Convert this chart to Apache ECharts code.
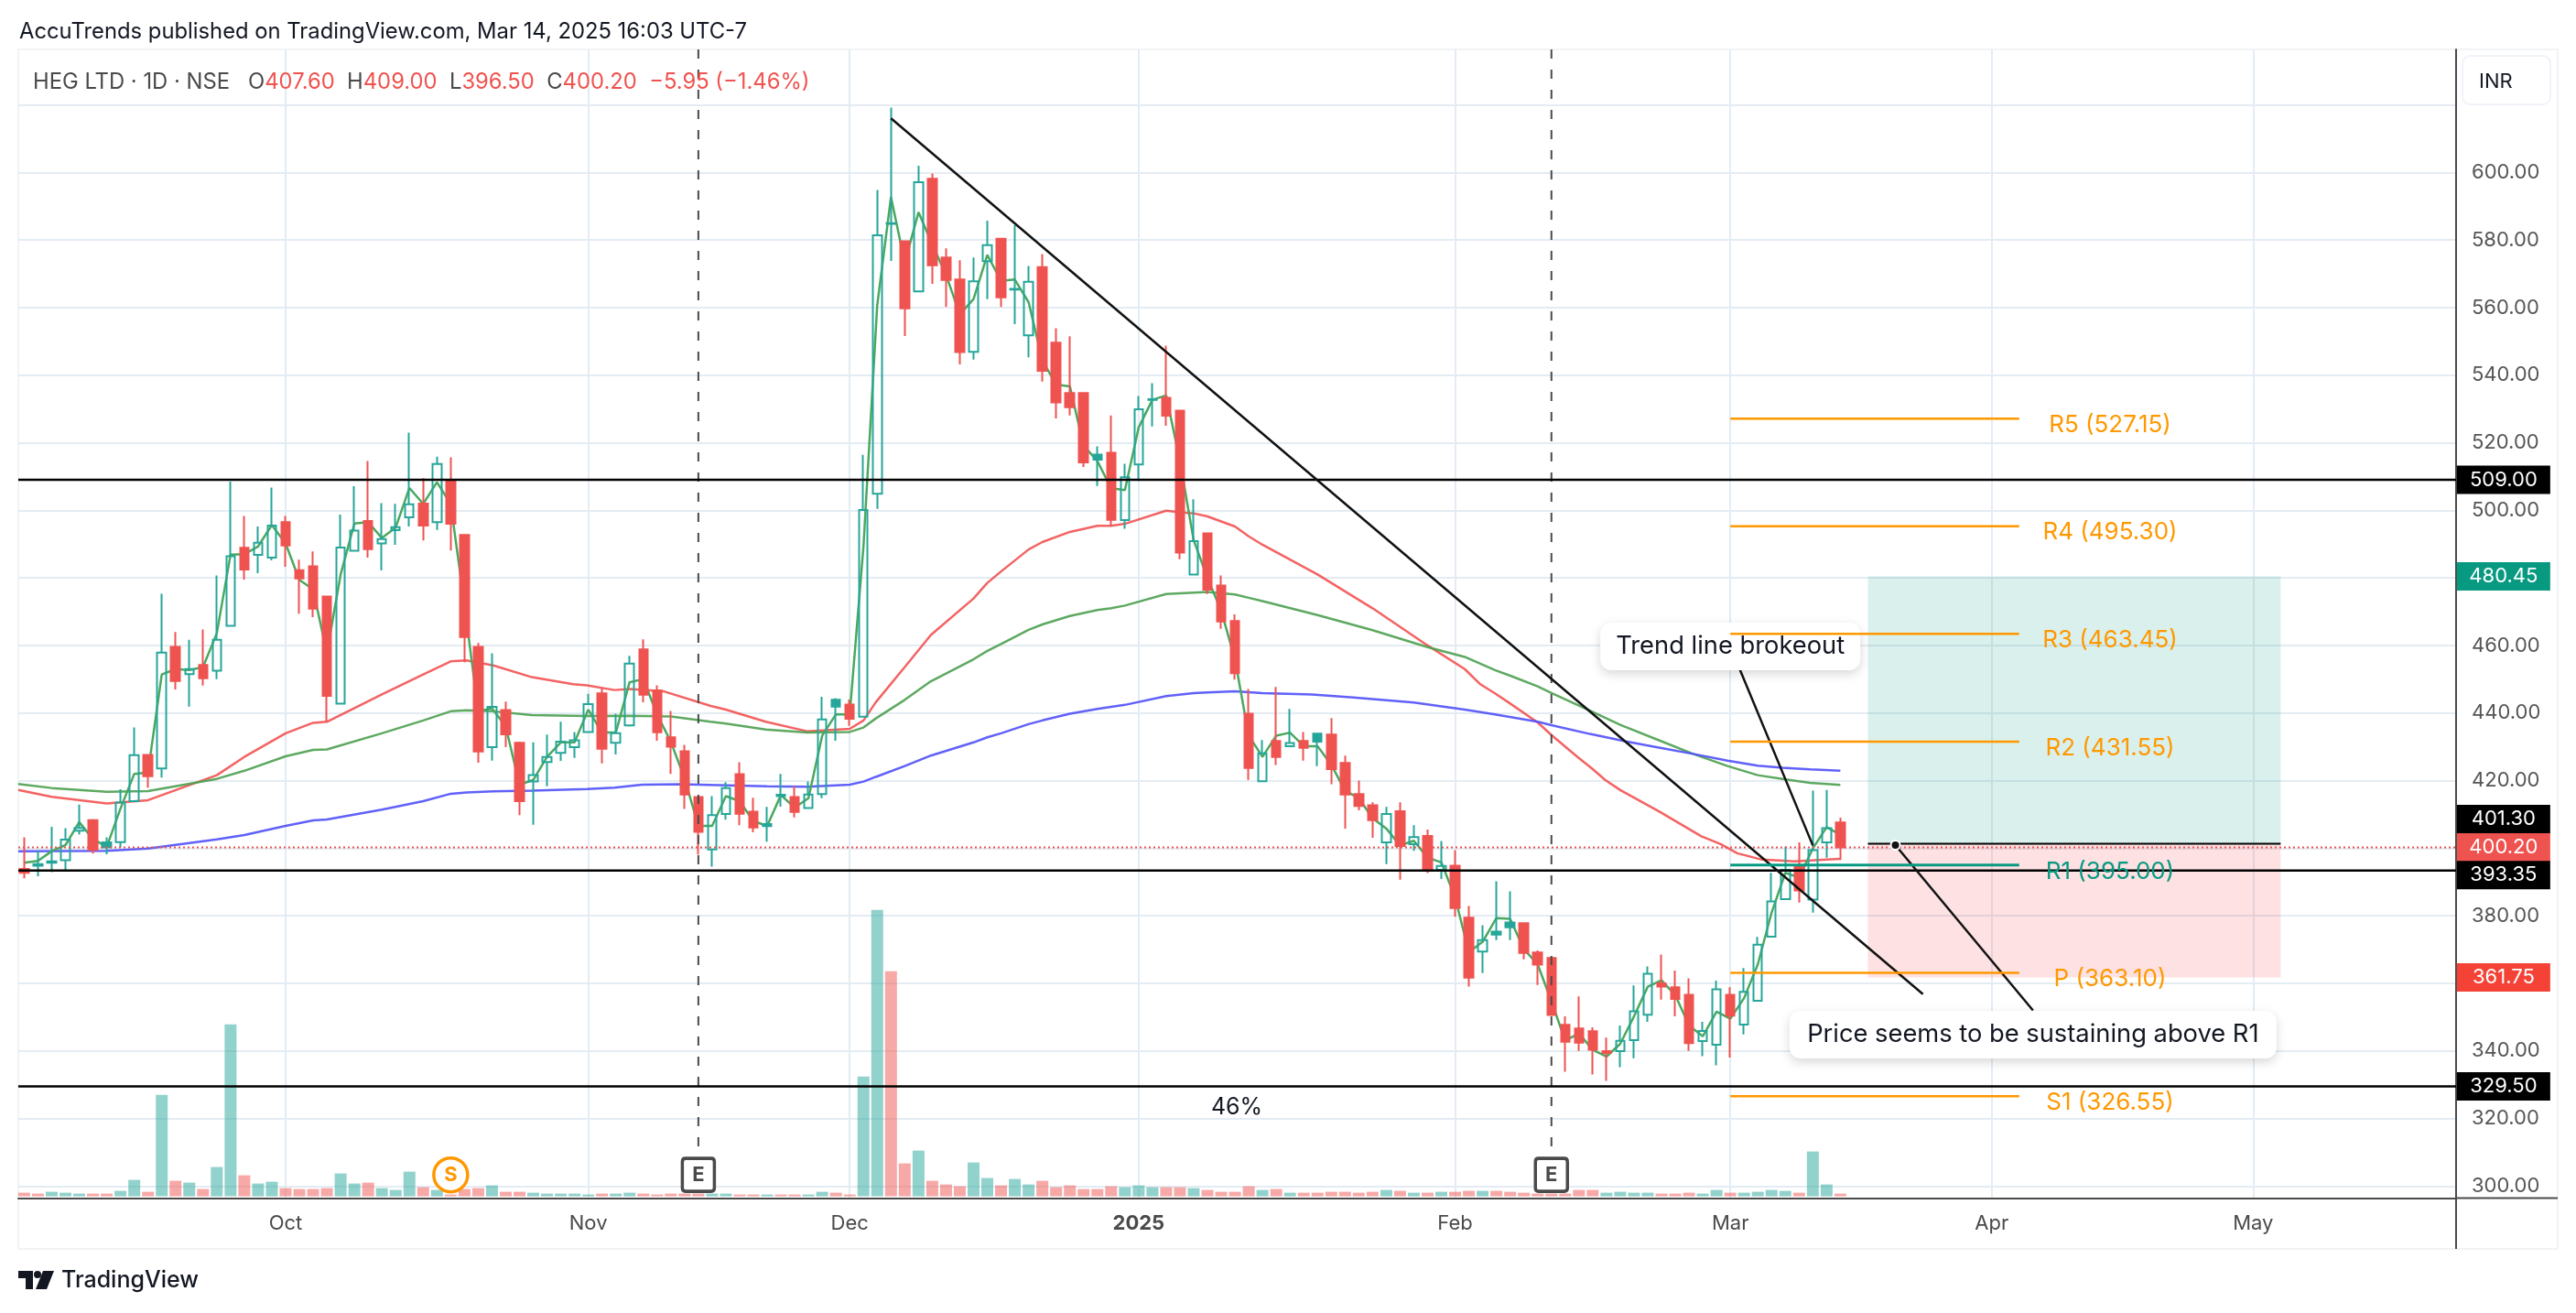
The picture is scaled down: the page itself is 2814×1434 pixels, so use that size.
<!DOCTYPE html>
<html>
<head>
<meta charset="utf-8">
<title>HEG LTD</title>
<script src="https://cdn.jsdelivr.net/npm/echarts@6/dist/echarts.min.js"></script>
<style>
html, body { margin: 0; padding: 0; background: #fff; }
#chart { width: 2814px; height: 1434px; }
</style>
</head>
<body>
<div id="chart"></div>
<script>
// one row = 10 daily bars, bar 0 is mid Sep 2024, bar 132 is Mar 13 2025
var opens = [
    393.85, 394.8, 395.7, 396.4, 405.2, 408.3, 400.2, 401.8, 413.9, 427.6,
    423.6, 459.6, 451.5, 454.2, 452.5, 465.8, 488.9, 486.8, 486.0, 496.5,
    482.3, 483.4, 474.5, 442.8, 488.0, 496.8, 490.2, 494.1, 497.9, 502.0,
    496.5, 508.7, 492.7, 459.6, 429.9, 440.9, 431.2, 419.7, 425.5, 428.2,
    429.9, 434.4, 445.8, 431.2, 436.3, 458.8, 446.7, 432.8, 428.7, 415.1,
    399.6, 410.1, 421.9, 410.8, 406.5, 415.4, 415.1, 411.9, 416.0, 441.9,
    442.5, 438.9, 504.9, 584.8, 579.6, 564.8, 598.1, 574.8, 568.3, 546.9,
    573.7, 580.4, 565.3, 551.8, 572.0, 549.6, 534.7, 534.7, 515.0, 517.0,
    497.1, 513.6, 532.7, 533.3, 529.5, 481.0, 493.2, 477.7, 467.2, 439.8,
    419.8, 431.7, 430.2, 431.7, 431.5, 433.6, 425.2, 416.0, 412.7, 401.7,
    410.9, 401.2, 403.6, 393.6, 394.8, 379.4, 369.4, 374.4, 376.6, 377.8,
    369.1, 367.5, 347.7, 346.6, 345.8, 339.9, 339.9, 343.2, 350.7, 360.0,
    358.8, 356.6, 342.9, 341.8, 356.6, 347.8, 354.8, 373.8, 384.9, 394.8,
    384.8, 401.7, 407.6
];
var closes = [
    392.7, 395.3, 396.1, 402.5, 406.0, 399.5, 401.7, 413.5, 427.5, 421.3,
    457.9, 449.5, 453.0, 450.3, 461.7, 486.4, 482.5, 490.4, 495.5, 489.6,
    479.8, 470.9, 445.1, 489.0, 494.0, 488.5, 491.5, 495.0, 501.8, 495.5,
    513.7, 496.0, 462.5, 428.6, 441.8, 433.7, 413.9, 421.6, 427.0, 431.5,
    431.9, 442.6, 429.4, 434.0, 454.6, 445.4, 434.3, 430.0, 415.9, 404.8,
    409.8, 417.8, 410.2, 406.1, 407.1, 415.8, 410.7, 415.9, 438.1, 443.9,
    438.3, 500.1, 581.4, 585.0, 559.8, 597.1, 572.5, 568.2, 546.8, 567.8,
    578.5, 563.0, 565.5, 567.6, 541.3, 531.9, 530.5, 514.2, 516.5, 497.2,
    509.8, 529.9, 532.9, 528.0, 487.5, 490.9, 476.5, 467.1, 451.8, 423.7,
    428.1, 427.0, 431.1, 429.7, 433.9, 423.4, 415.9, 412.5, 408.3, 410.1,
    400.6, 403.3, 393.6, 394.7, 382.3, 361.7, 372.8, 375.3, 378.0, 369.0,
    365.5, 350.6, 342.7, 342.4, 340.3, 339.4, 343.0, 351.7, 362.8, 359.0,
    355.4, 342.3, 345.9, 358.2, 350.4, 357.5, 371.4, 384.2, 393.6, 387.5,
    399.4, 405.9, 400.2
];
var highs = [
    403.2, 399.3, 406.3, 405.9, 412.9, 408.6, 403.2, 417.4, 435.7, 427.6,
    475.3, 464.0, 461.7, 464.7, 480.7, 508.5, 498.3, 495.2, 506.7, 498.3,
    485.4, 487.8, 474.5, 498.7, 507.1, 514.6, 502.1, 501.9, 523.0, 509.5,
    515.9, 515.7, 492.7, 460.7, 457.7, 443.4, 431.5, 431.3, 433.6, 437.4,
    434.4, 445.7, 447.3, 439.8, 456.9, 461.8, 448.2, 440.6, 430.6, 415.1,
    415.4, 419.5, 425.4, 414.9, 412.2, 422.0, 418.4, 419.7, 444.8, 444.4,
    444.0, 516.4, 594.8, 619.2, 579.6, 602.0, 599.7, 577.5, 574.0, 574.8,
    585.7, 580.4, 584.4, 572.3, 575.8, 553.9, 551.5, 534.7, 518.9, 528.1,
    513.8, 533.8, 537.6, 548.7, 529.5, 503.3, 493.2, 480.7, 469.2, 447.1,
    432.0, 447.7, 441.2, 434.4, 433.9, 438.5, 427.4, 420.0, 413.6, 412.2,
    413.6, 406.8, 405.5, 402.1, 399.4, 382.9, 377.2, 390.2, 387.2, 377.8,
    369.7, 367.5, 350.2, 356.1, 347.0, 343.9, 347.5, 359.4, 365.0, 368.5,
    363.8, 361.5, 348.6, 360.8, 358.8, 364.5, 373.7, 392.7, 400.5, 401.7,
    417.0, 417.2, 409.0
];
var lows = [
    391.1, 391.7, 392.9, 393.2, 404.0, 398.4, 398.2, 400.3, 413.9, 417.9,
    420.9, 447.0, 441.9, 448.1, 450.0, 465.8, 479.5, 481.4, 485.2, 483.3,
    469.4, 468.4, 437.4, 442.8, 487.8, 486.0, 482.2, 489.8, 495.2, 491.1,
    494.2, 488.1, 455.0, 425.3, 425.9, 429.9, 409.8, 406.9, 418.3, 425.8,
    426.7, 434.2, 425.1, 427.7, 436.0, 443.2, 431.8, 422.0, 411.6, 398.1,
    394.5, 408.4, 406.8, 404.7, 401.9, 412.3, 409.1, 411.6, 414.8, 431.8,
    436.2, 438.9, 500.4, 573.8, 551.6, 564.8, 567.0, 560.2, 543.2, 544.6,
    562.5, 560.2, 555.1, 545.3, 538.1, 527.2, 528.1, 512.8, 507.2, 495.2,
    494.5, 508.7, 524.8, 525.0, 485.5, 481.0, 475.2, 464.9, 449.9, 420.2,
    419.8, 424.6, 430.2, 425.9, 424.3, 418.9, 405.8, 411.2, 403.1, 395.3,
    390.7, 399.2, 392.6, 390.9, 379.7, 359.0, 363.0, 372.8, 372.8, 367.1,
    359.5, 350.6, 333.8, 340.0, 333.0, 331.1, 335.2, 337.8, 348.6, 355.2,
    350.2, 340.0, 338.4, 335.7, 338.0, 344.9, 354.8, 373.8, 384.9, 383.9,
    380.9, 397.2, 396.5
];
// bars drawn filled in teal
var solidUp = [6, 54, 59, 78, 94, 107, 108];

var volumes = [
    4, 3, 5, 4, 3, 3, 3, 6, 18, 5,
    111, 17, 15, 8, 32, 188, 23, 14, 16, 9,
    8, 8, 9, 25, 14, 15, 9, 7, 27, 10,
    7, 2, 8, 9, 12, 5, 5, 4, 3, 3,
    3, 2, 3, 3, 4, 3, 2, 3, 3, 3,
    3, 3, 2, 2, 2, 2, 2, 2, 5, 4,
    2, 131, 313, 246, 36, 50, 17, 13, 11, 37,
    20, 12, 19, 13, 17, 10, 12, 8, 8, 11,
    10, 12, 10, 10, 10, 9, 7, 5, 5, 11,
    7, 8, 4, 4, 4, 5, 5, 4, 5, 7,
    6, 4, 4, 5, 5, 6, 6, 6, 5, 4,
    3, 3, 3, 7, 7, 4, 5, 4, 4, 3,
    3, 4, 3, 7, 4, 4, 5, 7, 6, 4,
    49, 13, 3
];
// 1 = teal volume bar
var volUp = [
    0, 0, 1, 1, 1, 0, 0, 1, 1, 0,
    1, 0, 1, 0, 1, 1, 0, 1, 1, 0,
    0, 0, 0, 1, 1, 0, 1, 1, 1, 0,
    1, 0, 0, 0, 1, 0, 0, 1, 1, 1,
    1, 1, 0, 1, 1, 0, 0, 0, 0, 0,
    1, 1, 0, 0, 1, 0, 0, 1, 1, 0,
    0, 1, 1, 0, 0, 1, 0, 0, 0, 1,
    1, 0, 1, 1, 0, 0, 0, 0, 0, 0,
    1, 1, 1, 0, 0, 1, 0, 0, 0, 0,
    1, 0, 1, 0, 0, 0, 0, 0, 0, 1,
    0, 1, 0, 1, 0, 0, 1, 0, 0, 0,
    0, 0, 0, 0, 0, 1, 1, 1, 1, 0,
    0, 0, 1, 1, 0, 1, 1, 1, 1, 0,
    1, 1, 0
];

var fastMa = [
    395.7, 396.2, 399.1, 400.9, 407.7, 402.7, 400.4, 411.7, 422.0, 422.4,
    451.4, 453.0, 452.7, 453.6, 463.6, 486.9, 487.0, 489.3, 495.6, 490.2,
    479.4, 476.6, 457.7, 481.0, 496.1, 496.5, 491.8, 494.9, 506.6, 501.9,
    508.3, 501.9, 472.1, 440.5, 441.4, 436.0, 418.8, 420.2, 427.0, 431.3,
    431.3, 441.0, 434.2, 434.2, 449.1, 450.0, 439.6, 431.5, 420.6, 406.6,
    406.6, 415.4, 413.9, 408.0, 406.6, 415.7, 412.0, 414.8, 433.3, 439.6,
    439.6, 489.3, 560.7, 592.7, 573.3, 588.2, 578.7, 569.7, 558.0, 562.5,
    575.6, 567.9, 568.3, 561.6, 544.4, 537.2, 536.7, 519.1, 514.6, 506.5,
    506.0, 524.5, 532.7, 534.0, 514.6, 491.1, 480.0, 470.3, 455.9, 433.3,
    427.0, 433.3, 434.2, 430.2, 430.2, 424.7, 417.0, 414.8, 408.9, 405.8,
    400.8, 402.2, 397.2, 395.8, 385.4, 369.2, 372.3, 379.3, 379.1, 370.1,
    365.6, 354.7, 343.0, 345.2, 340.3, 338.3, 342.1, 350.2, 359.0, 360.9,
    356.5, 347.5, 344.3, 351.6, 349.5, 355.6, 365.6, 380.9, 392.7, 391.3,
    399.9, 406.2, 404.0
];
var redMa = [
    [-0.43, 417.2], [2, 415.2], [6, 413.2], [9, 414.2], [14, 421.6], [16, 427], [19, 434], [21, 437.1],
    [22, 437.4], [26, 445.5], [29, 451.4], [31, 455.3], [32.15, 455.6], [34.1, 454.1], [36.9, 450.6],
    [39.9, 448.5], [40.9, 448.2], [42.9, 446.8], [44, 447.1], [46.5, 446.4], [49.9, 442.1], [51, 441],
    [53.9, 437.4], [56.9, 434.6], [60, 435.3], [61, 437.8], [61.9, 443.2], [64, 453.6], [65.9, 463.1],
    [69, 473.9], [70, 478.5], [71, 481.9], [73, 488.4], [74, 490.6], [76, 493.6], [78, 495.4], [79, 495.4],
    [80, 496], [83, 499.9], [84, 499.4], [85, 499.1], [86, 498.2], [88, 495.2], [89, 492.3], [90, 489.8],
    [94, 481], [98, 471], [102, 460], [104.7, 453], [105.8, 448.6], [106.9, 445.8], [108, 442.8], [110, 437.2],
    [111, 433.5], [112.9, 427], [114, 423.4], [114.9, 420.2], [116, 417.2], [118, 412.7], [118.9, 410.7],
    [121.9, 403.5], [123.3, 401.2], [124.5, 398.5], [126.3, 396.6], [128.7, 396.1], [131.3, 396.7], [132, 396.8]
];
var greenMa = [
    [-0.43, 419], [2, 417.8], [6, 416.7], [9, 416.9], [14, 420.5], [16, 422.9], [19, 427.2], [21, 429.1],
    [22, 429.2], [26, 434], [29, 437.8], [31, 440.5], [32.15, 440.8], [34.1, 440.5], [36.9, 439.4],
    [40.9, 439.1], [44, 439.2], [47, 439], [49.9, 437.4], [51, 436.9], [53.9, 435.1], [56.9, 434.2], [60, 434.4],
    [61, 435.7], [61.9, 438.4], [64, 443.9], [65.9, 449.4], [69, 455.9], [70, 458.4], [71, 460.4], [73, 464.6],
    [74, 466.2], [76, 468.7], [78, 470.5], [79, 471], [80, 471.8], [83, 475.2], [84, 475.4], [86, 475.8],
    [88, 475.1], [89, 474.1], [90, 473.1], [94, 469], [98, 464.5], [102, 459.5], [104.7, 456.6], [106.9, 452.7],
    [108.1, 450.9], [110, 447.9], [111, 445.9], [113.8, 440.7], [116, 436.5], [118.9, 431.8], [121.3, 427.9],
    [123.8, 424.3], [126, 421.6], [127.8, 420.5], [129.8, 419.3], [132, 418.7]
];
var blueMa = [
    [-0.43, 399.1], [6, 399.2], [9, 399.9], [14, 402.6], [16, 403.9], [19, 406.6], [21, 408.2], [22, 408.5],
    [26, 411.4], [29, 413.9], [31, 416.1], [32.15, 416.5], [34.1, 416.8], [36.9, 417], [40.9, 417.5], [42.9, 417.9],
    [44.9, 418.8], [47.7, 418.9], [54, 418.3], [56.9, 418.2], [60, 418.8], [61, 419.7], [61.9, 421.1], [64, 424.3],
    [65.9, 427.4], [69, 431.3], [70, 432.8], [71, 434], [73, 436.7], [74, 437.8], [76, 439.8], [78, 441.2], [80, 442.4],
    [83, 445], [85, 445.9], [86, 446.1], [88, 446.4], [90, 445.9], [93.6, 445.5], [96.6, 444.6], [101, 443.1],
    [104.7, 441], [106.9, 439.6], [110, 437.4], [111, 436.4], [113.8, 433.8], [116.5, 431.5], [118.9, 429.7],
    [121.3, 427.9], [123.8, 425.9], [126, 424.4], [127.8, 423.8], [129.8, 423.3], [132, 422.9]
];

var monthTicks = [19, 41, 60, 81, 104, 124, 143, 162];
var monthLabels = ['Oct', 'Nov', 'Dec', '2025', 'Feb', 'Mar', 'Apr', 'May'];
var priceTicks = [300, 320, 340, 360, 380, 400, 420, 440, 460, 480, 500, 520, 540, 560, 580, 600, 620];

var levelNames = ['R5', 'R4', 'R3', 'R2', 'R1', 'P', 'S1'];
var levelValues = [527.15, 495.30, 463.45, 431.55, 395.00, 363.10, 326.55];
var supportLines = [509.00, 393.35, 329.50];
var tagValues = [509.00, 480.45, 401.30, 400.20, 393.35, 361.75, 329.50];
var earningsBars = [49, 111];
var splitBar = 31;
var lastPrice = 400.20;
var targetPrice = 480.45, entryPrice = 401.30, stopPrice = 361.75;
var trendLine = [[63, 616], [138, 356.8]];
var noteLineA = [[124, 459.7], [130, 400.8]];
var noteLineB = [[136, 400.9], [146, 352]];

var TEAL = '#26a69a', RED = '#ef5350', ORANGE = '#ff9800', FONT = 'Inter, "Noto Sans", sans-serif';
var xMin = -0.426, xMax = 176.75, yMin = 296.4, yMax = 636.4;

function lineSeries(points, color, width, type, z) {
    return {
        type: 'line', data: points, symbol: 'none', silent: true, z: z, animation: false,
        lineStyle: {color: color, width: width, type: type || 'solid'}
    };
}

function textPoint(x, y, text, label, z) {
    return {
        type: 'scatter', data: [[x, y]], symbolSize: 0, silent: true, z: z, animation: false,
        itemStyle: {opacity: 1},
        label: Object.assign({show: true, position: 'inside', formatter: text, fontFamily: FONT}, label)
    };
}

var candleData = [], volumeData = [], fastData = [];
for (var i = 0; i < opens.length; i++) {
    var item = {value: [i, opens[i], closes[i], lows[i], highs[i]]};
    if (solidUp.indexOf(i) >= 0) {
        item.itemStyle = {color: TEAL};
    }
    candleData.push(item);
    volumeData.push({
        value: [i, volumes[i]],
        itemStyle: {color: volUp[i] ? 'rgba(38,166,154,0.5)' : 'rgba(239,83,80,0.5)'}
    });
    fastData.push([i, fastMa[i]]);
}

var series = [];
series.push({
    type: 'bar', data: volumeData, yAxisIndex: 1, barWidth: 13, z: 1, silent: true, animation: false
});
// long / short position boxes
series.push({
    type: 'line', data: [], z: 1, silent: true, animation: false,
    markArea: {
        silent: true,
        data: [
            [{xAxis: 134, yAxis: targetPrice, itemStyle: {color: 'rgba(8,153,129,0.15)'}}, {xAxis: 164, yAxis: entryPrice}],
            [{xAxis: 134, yAxis: entryPrice, itemStyle: {color: 'rgba(242,54,69,0.15)'}}, {xAxis: 164, yAxis: stopPrice}]
        ]
    }
});
series.push(lineSeries(redMa, 'rgba(242,72,72,0.85)', 2.5, 'solid', 2));
series.push(lineSeries(greenMa, 'rgba(76,160,80,0.9)', 2.5, 'solid', 2));
series.push(lineSeries(blueMa, 'rgba(80,80,250,0.9)', 2.5, 'solid', 2));
series.push(lineSeries(fastData, '#4aa85f', 2.5, 'solid', 2));
series.push({
    type: 'candlestick', data: candleData, barWidth: 10, z: 3, silent: true, animation: false,
    encode: {x: 0, y: [1, 2, 3, 4]},
    itemStyle: {color: 'rgba(0,0,0,0)', color0: RED, borderColor: TEAL, borderColor0: RED, borderWidth: 2}
});

// earnings markers
earningsBars.forEach(function (bar) {
    series.push(lineSeries([[bar, yMax], [bar, 311.7]], '#4a4a4a', 2, [10, 12], 4));
});
supportLines.forEach(function (v) {
    series.push(lineSeries([[xMin, v], [xMax, v]], '#000000', 2.5, 'solid', 4));
});
series.push(lineSeries([[xMin, lastPrice], [xMax, lastPrice]], RED, 2, [2, 3], 4));
series.push(lineSeries(trendLine, '#111111', 2.5, 'solid', 5));
series.push(lineSeries(noteLineA, '#111111', 2.5, 'solid', 5));
series.push(lineSeries(noteLineB, '#111111', 2.5, 'solid', 5));
series.push(lineSeries([[134, entryPrice], [164, entryPrice]], '#000000', 2, 'solid', 5));

var boxLabel = {
    color: '#131722', fontSize: 27.3, backgroundColor: '#ffffff', borderRadius: 12,
    padding: [7, 0, 0, 0], height: 45, lineHeight: 45, align: 'center', verticalAlign: 'middle',
    shadowColor: 'rgba(0,0,0,0.16)', shadowBlur: 12, shadowOffsetY: 4
};
series.push(textPoint(124, 459.7, 'Trend line brokeout', Object.assign({}, boxLabel, {width: 284}), 10));
series.push(textPoint(146, 344.8, 'Price seems to be sustaining above R1', Object.assign({}, boxLabel, {width: 532}), 10));

// pivot levels sit above the callouts
levelValues.forEach(function (v, k) {
    var c = levelNames[k] === 'R1' ? '#089981' : ORANGE;
    series.push(lineSeries([[124, v], [145, v]], c, levelNames[k] === 'R1' ? 3 : 2.5, 'solid', 11));
    series.push(textPoint(151.6, v, levelNames[k] + ' (' + v.toFixed(2) + ')', {
        color: c, fontSize: 26, offset: [0, 7]
    }, 11));
});

series.push(textPoint(88, 323.9, '46%', {color: '#131722', fontSize: 25, offset: [2, 2]}, 6));

// entry dot
series.push({
    type: 'scatter', data: [noteLineB[0]], symbolSize: 10, silent: true, z: 7, animation: false,
    itemStyle: {color: '#111111', borderColor: '#ffffff', borderWidth: 2, opacity: 1}
});

// E and S chips
series.push({
    type: 'scatter', data: earningsBars.map(function (b) { return [b, 303.3]; }),
    symbol: 'path://M2 0H18Q20 0 20 2V18Q20 20 18 20H2Q0 20 0 18V2Q0 0 2 0Z', symbolSize: [35, 36],
    silent: true, z: 8, animation: false,
    itemStyle: {color: '#ffffff', borderColor: '#4a4a4a', borderWidth: 3.5, opacity: 1},
    label: {show: true, position: 'inside', formatter: 'E', color: '#4a4a4a', fontSize: 22, fontWeight: 'bold', fontFamily: FONT}
});
series.push({
    type: 'scatter', data: [[splitBar, 303.3]], symbol: 'circle', symbolSize: 37, silent: true, z: 8, animation: false,
    itemStyle: {color: '#ffffff', borderColor: ORANGE, borderWidth: 3.5, opacity: 1},
    label: {show: true, position: 'inside', formatter: 'S', color: ORANGE, fontSize: 22, fontWeight: 'bold', fontFamily: FONT}
});

// price tags on the scale
var tagColors = ['#000000', '#089981', '#000000', RED, '#000000', '#f44336', '#000000'];
var tagOffsets = [0, 0, -27, 0, 5, 0, 0];
tagValues.forEach(function (v, k) {
    series.push({
        type: 'scatter', data: [[180.2, v]], clip: false, silent: true, z: 20, animation: false,
        symbol: 'rect', symbolSize: [102, 31], symbolOffset: [0, tagOffsets[k]],
        itemStyle: {color: tagColors[k], opacity: 1},
        label: {show: true, position: 'inside', formatter: v.toFixed(2), color: '#ffffff', fontSize: 22, fontFamily: FONT}
    });
});

var option = {
    backgroundColor: '#ffffff',
    animation: false,
    title: [
        {
            left: 21, top: 23, text: 'AccuTrends published on TradingView.com, Mar 14, 2025 16:03 UTC-7',
            padding: 0,
            textStyle: {color: '#131722', fontSize: 23.8, fontWeight: 'normal', fontFamily: FONT}
        },
        {
            left: 36, top: 78, padding: 0,
            text: '{g|HEG LTD · 1D · NSE   O}{r|407.60}{g|  H}{r|409.00}{g|  L}{r|396.50}{g|  C}{r|400.20}{r|  −5.95 (−1.46%)}',
            textStyle: {
                fontFamily: FONT, fontWeight: 'normal',
                rich: {
                    g: {color: '#4a4a4a', fontSize: 23.8, fontWeight: 'normal', fontFamily: FONT},
                    r: {color: RED, fontSize: 23.8, fontWeight: 'normal', fontFamily: FONT}
                }
            }
        },
        {
            left: 67, top: 1386, padding: 0, text: 'TradingView',
            textStyle: {color: '#131722', fontSize: 25, fontWeight: 500, fontFamily: FONT}
        }
    ],
    grid: {left: 20, right: 131, top: 54, bottom: 125.4, containLabel: false},
    xAxis: {
        type: 'value', min: xMin, max: xMax,
        axisLine: {show: true, onZero: false, lineStyle: {color: '#4a4a4a', width: 2}},
        axisTick: {show: false, customValues: monthTicks},
        splitLine: {show: true, lineStyle: {color: '#e4ecf3', width: 2}},
        axisLabel: {
            customValues: monthTicks, margin: 17, color: '#4a4a4a', fontSize: 22, fontFamily: FONT,
            formatter: function (v) {
                var name = monthLabels[monthTicks.indexOf(v)];
                return name === '2025' ? '{b|2025}' : name;
            },
            rich: {b: {fontWeight: 'bold', fontSize: 22, color: '#4a4a4a', fontFamily: FONT}}
        }
    },
    yAxis: [
        {
            type: 'value', position: 'right', min: yMin, max: yMax,
            axisLine: {show: true, onZero: false, lineStyle: {color: '#4a4a4a', width: 2}},
            axisTick: {show: false, customValues: priceTicks},
            splitLine: {show: true, lineStyle: {color: '#e4ecf3', width: 2}},
            axisLabel: {
                customValues: priceTicks, margin: 17, color: '#555555', fontSize: 22, fontFamily: FONT,
                padding: [3, 0, 0, 0],
                formatter: function (v) { return v.toFixed(2); }
            }
        },
        {type: 'value', show: false, min: -2, max: 1253, splitLine: {show: false}}
    ],
    graphic: [
        {
            type: 'rect', z: -1, silent: true,
            shape: {x: 20, y: 54, width: 2774, height: 1310},
            style: {fill: 'none', stroke: '#f2f3f5', lineWidth: 2}
        },
        {
            type: 'line', z: 1, silent: true,
            shape: {x1: 2683, y1: 1308.6, x2: 2794, y2: 1308.6},
            style: {stroke: '#4a4a4a', lineWidth: 2}
        },
        {
            type: 'line', z: 1, silent: true,
            shape: {x1: 2683, y1: 1308.6, x2: 2683, y2: 1364},
            style: {stroke: '#4a4a4a', lineWidth: 2}
        },
        // the INR button hides most of the 620 label
        {
            type: 'rect', z: 49, silent: true,
            shape: {x: 2686, y: 100, width: 104, height: 22},
            style: {fill: '#ffffff'}
        },
        {
            type: 'rect', z: 50, silent: true,
            shape: {x: 2690, y: 61, width: 96, height: 53, r: 8},
            style: {fill: '#ffffff', stroke: '#f0f3fa', lineWidth: 2}
        },
        {
            type: 'text', z: 51, silent: true, x: 2708, y: 89,
            style: {text: 'INR', fill: '#131722', fontSize: 22, fontFamily: FONT, verticalAlign: 'middle'}
        },
        // TradingView mark
        {
            type: 'polygon', z: 51, silent: true,
            shape: {points: [[20, 1388], [36, 1388], [36, 1408], [28, 1408], [28, 1396], [20, 1396]]},
            style: {fill: '#131722'}
        },
        {
            type: 'polygon', z: 51, silent: true,
            shape: {points: [[47, 1388], [59, 1388], [51, 1408], [39, 1408]]},
            style: {fill: '#131722'}
        },
        {
            type: 'circle', z: 51, silent: true,
            shape: {cx: 41, cy: 1392, r: 4},
            style: {fill: '#131722'}
        }
    ],
    series: series
};

var myChart = echarts.init(document.getElementById('chart'), null, {renderer: 'canvas'});
myChart.setOption(option);
</script>
</body>
</html>
